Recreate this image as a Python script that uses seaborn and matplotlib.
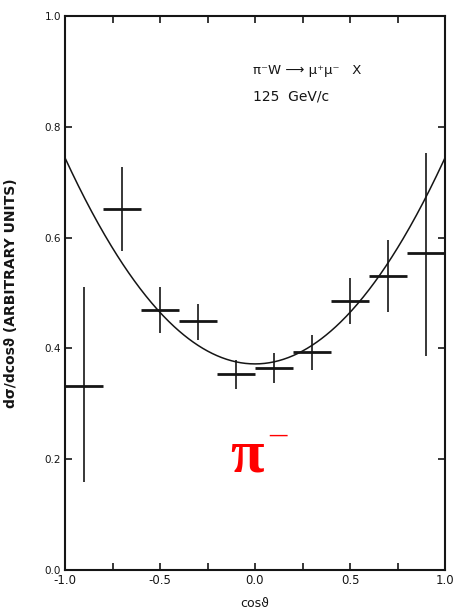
import numpy as np
import pandas as pd
import matplotlib
matplotlib.use("Agg")
import matplotlib.pyplot as plt
import seaborn as sns

# Angular distribution of muon pairs, pi- W -> mu+ mu- X at 125 GeV/c
cos_theta = [-0.9, -0.7, -0.5, -0.3, -0.1, 0.1, 0.3, 0.5, 0.7, 0.9]
bin_half_width = [0.1] * 10
dsigma = [0.332, 0.652, 0.470, 0.449, 0.354, 0.364, 0.393, 0.486, 0.531, 0.572]
err_top = [0.510, 0.728, 0.511, 0.481, 0.379, 0.391, 0.425, 0.527, 0.596, 0.752]
err_bottom = [0.159, 0.576, 0.427, 0.415, 0.327, 0.337, 0.361, 0.444, 0.466, 0.387]

# fit of the form A (1 + lambda cos^2 theta)
fit_norm = 0.372
fit_lambda = 1.0

x_ticks = [-1.0, -0.75, -0.5, -0.25, 0.0, 0.25, 0.5, 0.75, 1.0]
x_tick_labels = ["-1.0", "", "-0.5", "", "0.0", "", "0.5", "", "1.0"]
y_ticks = [0.0, 0.2, 0.4, 0.6, 0.8, 1.0]
y_tick_labels = ["0.0", "0.2", "0.4", "0.6", "0.8", "1.0"]

sns.set_theme(style="white")
plt.rcParams["font.family"] = ["DejaVu Sans"]

fig = plt.figure(figsize=(4.62, 6.13), dpi=100)
ax = fig.add_axes([65 / 462, 1 - 570 / 613, 380 / 462, 554 / 613])

ink = "#151515"

grid = np.linspace(-1, 1, 401)
fit_df = pd.DataFrame({"c": grid, "f": fit_norm * (1 + fit_lambda * grid ** 2)})
sns.lineplot(data=fit_df, x="c", y="f", ax=ax, color=ink, lw=1.1)

df = pd.DataFrame({"c": cos_theta, "y": dsigma,
                   "lo": np.array(dsigma) - np.array(err_bottom),
                   "hi": np.array(err_top) - np.array(dsigma),
                   "w": bin_half_width})
ax.errorbar(df["c"], df["y"], xerr=df["w"], fmt="none", ecolor=ink,
            elinewidth=2.0, capsize=0)
ax.errorbar(df["c"], df["y"], yerr=[df["lo"], df["hi"]], fmt="none",
            ecolor=ink, elinewidth=1.2, capsize=0)

ax.set_xlim(-1, 1)
ax.set_ylim(0, 1)
ax.set_xticks(x_ticks)
ax.set_xticklabels(x_tick_labels, fontsize=8.5, color=ink)
ax.set_yticks(y_ticks)
ax.set_yticklabels(y_tick_labels, fontsize=7.5, color=ink)
ax.tick_params(direction="in", length=5, width=1.2, top=True, right=True,
               bottom=True, left=True, pad=3, colors=ink)
for s in ax.spines.values():
    s.set_visible(True)
    s.set_color(ink)
    s.set_linewidth(1.5)

ax.set_xlabel("cosϑ", fontsize=9, color=ink, labelpad=7)
ax.set_ylabel("dσ/dcosϑ (ARBITRARY UNITS)", fontsize=10, color=ink,
              fontweight="semibold", labelpad=19)

ax.text(-0.01, 0.9025, "π⁻W ⟶ μ⁺μ⁻   X", fontsize=9.5, color=ink,
        ha="left", va="center")
ax.text(-0.01, 0.854, "125  GeV/c", fontsize=10, color=ink,
        ha="left", va="center")

ax.text(-0.13, 0.177, "π", fontsize=44, color="red", family="Liberation Serif",
        fontweight="bold", ha="left", va="baseline")
ax.text(0.12, 0.244, "–", fontsize=25, color="red", family="Liberation Serif",
        ha="center", va="center")

fig.savefig("out.png", dpi=100)
